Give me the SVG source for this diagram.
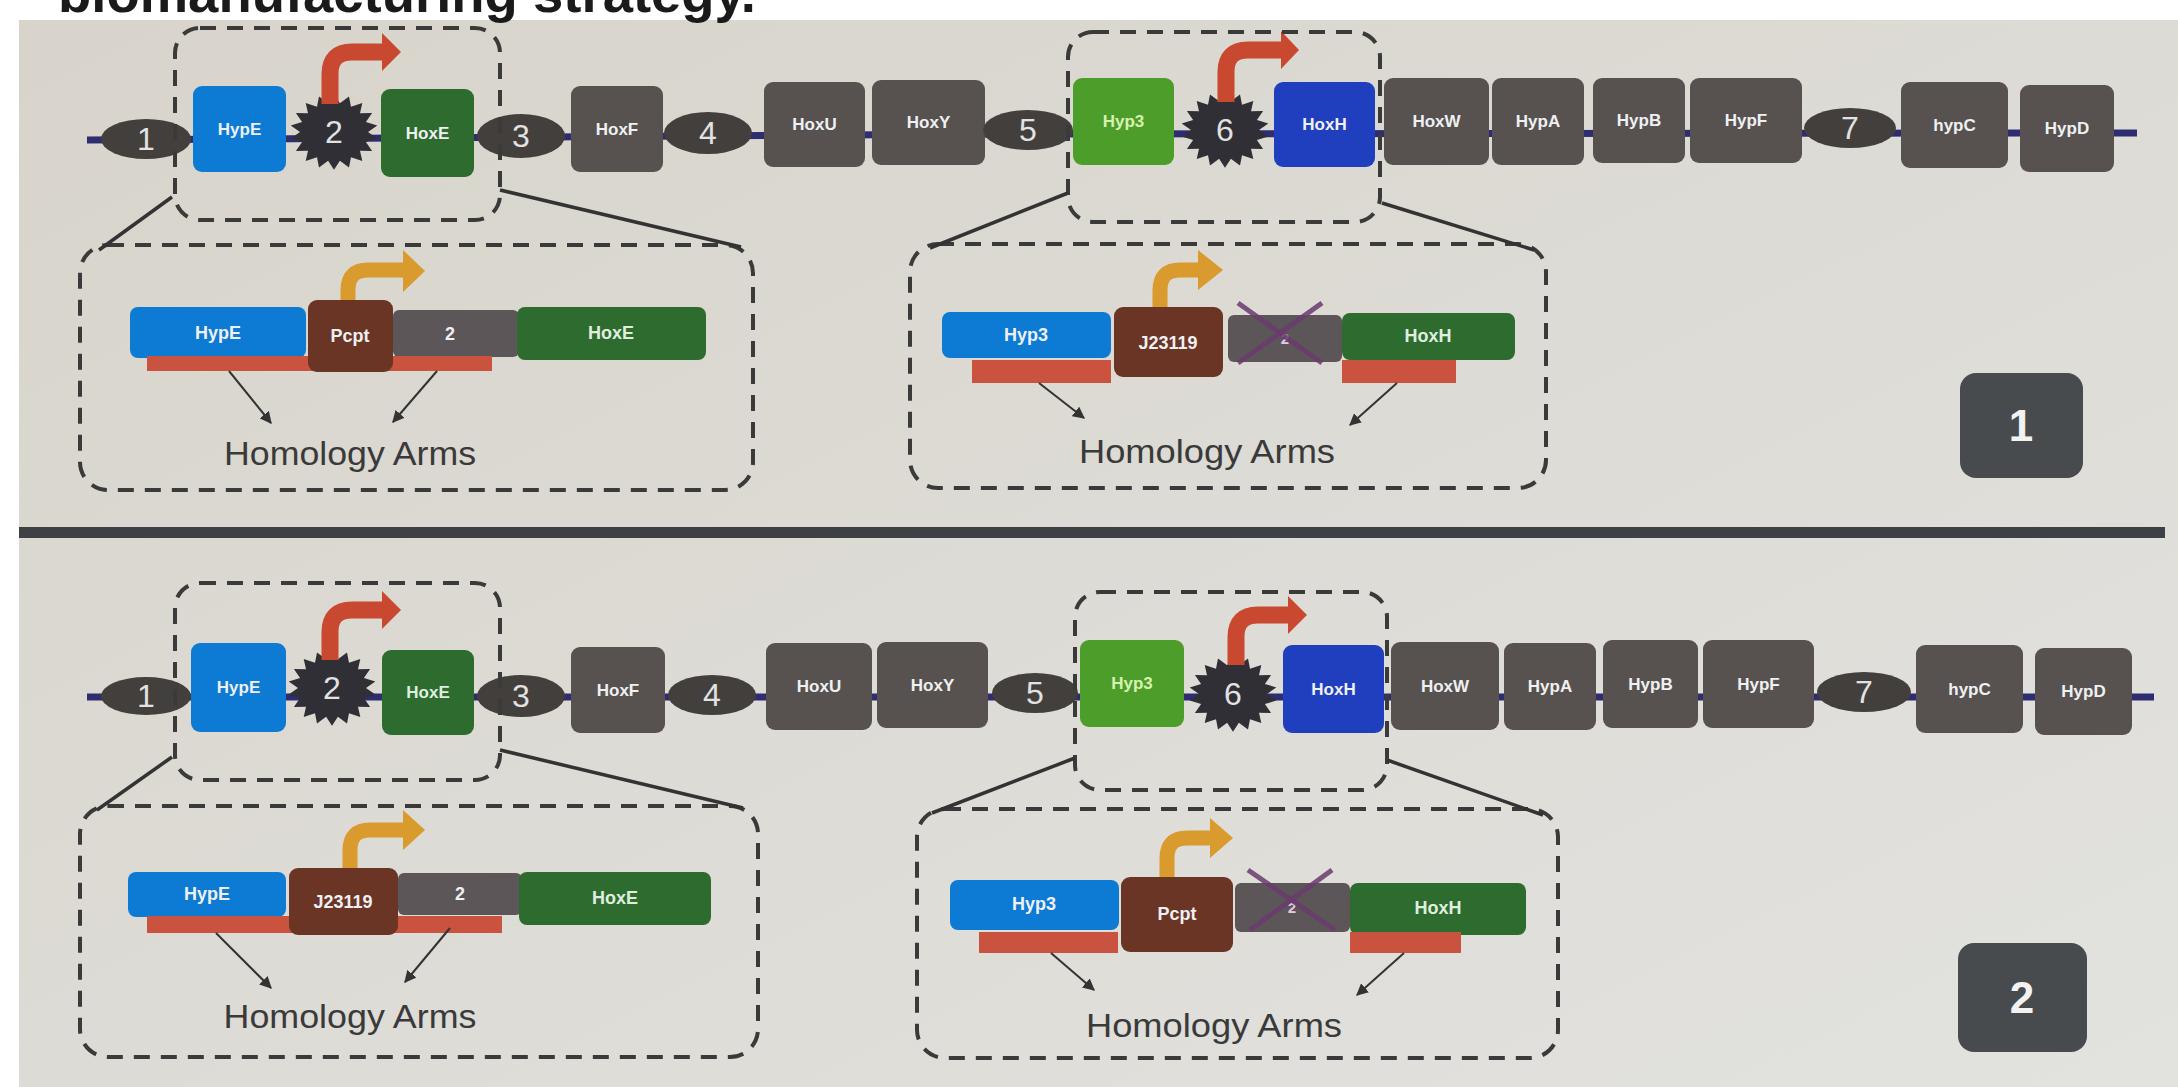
<svg xmlns="http://www.w3.org/2000/svg" xmlns:xlink="http://www.w3.org/1999/xlink" width="2178" height="1087" viewBox="0 0 2178 1087">
<style>
.gene{fill:#575250}
.ell{fill:#433f3d}
.star{fill:#2f2f35}
.blue{fill:#0d7bd4}
.dgreen{fill:#2d6b2f}
.lgreen{fill:#4c9d2a}
.dblue{fill:#1f3fbf}
.brown{fill:#6a3524}
.grey2{fill:#5c5658}
.arm{fill:#c9533f}
.dash{fill:none;stroke:#3a3a3a;stroke-width:4;stroke-dasharray:16 11}
.conn{fill:none;stroke:#333;stroke-width:3.5}
.thin{fill:none;stroke:#333;stroke-width:2;marker-end:url(#ah)}
.redarr{fill:none;stroke:#c8492f;stroke-width:17}
.redhead{fill:#c8492f}
.orarr{fill:none;stroke:#d99a2e;stroke-width:15}
.orhead{fill:#d99a2e}
.xline{stroke:#6b3b6e;stroke-width:5;opacity:0.85}
.backbone{fill:none;stroke:#2d2d70;stroke-width:7}
.gl{font-family:"Liberation Sans",Arial,sans-serif;font-weight:bold;font-size:17px;fill:#eef0f2;text-anchor:middle}
.dl{font-family:"Liberation Sans",Arial,sans-serif;font-weight:bold;font-size:18px;fill:#eef0f2;text-anchor:middle}
.num{font-family:"Liberation Sans",Arial,sans-serif;font-size:32px;fill:#e2e2e2;text-anchor:middle}
.ha{font-family:"Liberation Sans",Arial,sans-serif;font-size:33px;fill:#3a3a3a;text-anchor:middle}
.badge{fill:#474b4e}
.bl{font-family:"Liberation Sans",Arial,sans-serif;font-weight:bold;font-size:44px;fill:#f2f2f2;text-anchor:middle}
</style>
<defs>
<linearGradient id="bg" x1="0" y1="0" x2="1" y2="1">
<stop offset="0" stop-color="#d8d4cb"/>
<stop offset="1" stop-color="#e2e2df"/>
</linearGradient>
<polygon id="star" points="0,-37.8 5.9,-28.8 15,-35.6 17,-25.3 28.3,-29 26,-18.8 38.1,-18.9 31.9,-10 43.3,-6.6 34,0 43.3,6.6 31.9,10 38.1,18.9 26,18.8 28.3,29 17,25.3 15,35.6 5.9,28.8 0,37.8 -5.9,28.8 -15,35.6 -17,25.3 -28.3,29 -26,18.8 -38.1,18.9 -31.9,10 -43.3,6.6 -34,0 -43.3,-6.6 -31.9,-10 -38.1,-18.9 -26,-18.8 -28.3,-29 -17,-25.3 -15,-35.6 -5.9,-28.8"/>
<marker id="ah" viewBox="0 0 10 10" refX="9" refY="5" markerWidth="6" markerHeight="6" orient="auto" markerUnits="strokeWidth">
<path d="M0,0 L10,5 L0,10 z" fill="#333"/>
</marker>
</defs>

<rect x="0" y="0" width="2178" height="1087" fill="#ffffff"/>
<rect x="19" y="20" width="2159" height="1067" fill="url(#bg)"/>
<text x="58" y="12" font-family="'Liberation Sans',Arial,sans-serif" font-weight="bold" font-size="53" fill="#1a1a1a" textLength="698" lengthAdjust="spacingAndGlyphs">biomanufacturing strategy.</text>

<!-- separator -->
<rect id="separator" x="19" y="527" width="2146" height="11" fill="#3d4045"/>

<!-- ===== Panel 1 ===== -->
<g id="p1-backbone"><polyline class="backbone" points="87,140 1000,134 2137,133"/></g>

<g id="p1-e1"><ellipse class="ell" cx="146" cy="139" rx="45" ry="20"/><text class="num" x="146" y="150">1</text></g>
<g id="p1-HypE"><rect class="blue" x="193" y="86" width="93" height="86" rx="9"/><text class="gl" x="239.5" y="135">HypE</text></g>
<g id="p1-star2"><use xlink:href="#star" href="#star" class="star" x="334" y="132"/>
<path class="redarr" d="M330,104 V74 Q330,52 352,52 H384"/><polygon class="redhead" points="382,33 401,52 382,71"/>
<text class="num" x="334" y="143">2</text></g>
<g id="p1-HoxE"><rect class="dgreen" x="381" y="89" width="93" height="88" rx="9"/><text class="gl" x="427.5" y="139" fill="#dfeede">HoxE</text></g>
<g id="p1-e3"><ellipse class="ell" cx="521" cy="136" rx="44" ry="22"/><text class="num" x="521" y="147">3</text></g>
<g id="p1-HoxF"><rect class="gene" x="571" y="86" width="92" height="86" rx="9"/><text class="gl" x="617" y="135">HoxF</text></g>
<g id="p1-e4"><ellipse class="ell" cx="708" cy="133" rx="44" ry="21"/><text class="num" x="708" y="144">4</text></g>
<g id="p1-HoxU"><rect class="gene" x="764" y="82" width="101" height="85" rx="9"/><text class="gl" x="814.5" y="130">HoxU</text></g>
<g id="p1-HoxY"><rect class="gene" x="872" y="80" width="113" height="85" rx="9"/><text class="gl" x="928.5" y="128">HoxY</text></g>
<g id="p1-e5"><ellipse class="ell" cx="1028" cy="130" rx="45" ry="20"/><text class="num" x="1028" y="141">5</text></g>
<g id="p1-Hyp3"><rect class="lgreen" x="1073" y="78" width="101" height="87" rx="9"/><text class="gl" x="1123.5" y="127" style="fill:#d8f2ae">Hyp3</text></g>
<g id="p1-star6"><use xlink:href="#star" href="#star" class="star" x="1225" y="130"/>
<path class="redarr" d="M1226,102 V72 Q1226,50 1248,50 H1283"/><polygon class="redhead" points="1281,31 1299,50 1281,69"/>
<text class="num" x="1225" y="141">6</text></g>
<g id="p1-HoxH"><rect class="dblue" x="1274" y="82" width="101" height="85" rx="9"/><text class="gl" x="1324.5" y="130">HoxH</text></g>
<g id="p1-HoxW"><rect class="gene" x="1384" y="78" width="105" height="87" rx="9"/><text class="gl" x="1436.5" y="127">HoxW</text></g>
<g id="p1-HypA"><rect class="gene" x="1492" y="78" width="92" height="87" rx="9"/><text class="gl" x="1538" y="127">HypA</text></g>
<g id="p1-HypB"><rect class="gene" x="1593" y="78" width="92" height="85" rx="9"/><text class="gl" x="1639" y="126">HypB</text></g>
<g id="p1-HypF"><rect class="gene" x="1690" y="78" width="112" height="85" rx="9"/><text class="gl" x="1746" y="126">HypF</text></g>
<g id="p1-e7"><ellipse class="ell" cx="1850" cy="128" rx="46" ry="20"/><text class="num" x="1850" y="139">7</text></g>
<g id="p1-hypC"><rect class="gene" x="1901" y="82" width="107" height="86" rx="9"/><text class="gl" x="1954.5" y="131">hypC</text></g>
<g id="p1-HypD"><rect class="gene" x="2020" y="85" width="94" height="87" rx="9"/><text class="gl" x="2067" y="134">HypD</text></g>

<g id="p1-zoomA"><rect class="dash" x="175" y="28" width="325" height="192" rx="25"/></g>
<g id="p1-zoomB"><rect class="dash" x="1068" y="32" width="312" height="190" rx="25"/></g>

<g id="p1-detailA">
<rect class="dash" x="80" y="245" width="673" height="245" rx="28"/>
<path class="orarr" d="M348,304 V290 Q348,270 368,270 H405"/><polygon class="orhead" points="403,250 425,271 403,292"/>
<rect class="blue" x="130" y="307" width="176" height="51" rx="8"/><text class="dl" x="218" y="339">HypE</text>
<rect class="grey2" x="393" y="310" width="126" height="47" rx="6"/><text class="dl" x="450" y="340">2</text>
<rect class="dgreen" x="517" y="307" width="189" height="53" rx="8"/><text class="dl" x="611" y="339" style="fill:#dfeede">HoxE</text>
<rect class="arm" x="147" y="356" width="345" height="15"/>
<rect class="brown" x="308" y="300" width="85" height="72" rx="9"/><text class="dl" x="350" y="342">Pcpt</text>
<text class="ha" x="350" y="465" textLength="252" lengthAdjust="spacingAndGlyphs">Homology Arms</text>
</g>

<g id="p1-detailB">
<rect class="dash" x="910" y="244" width="636" height="244" rx="28"/>
<path class="orarr" d="M1160,309 V290 Q1160,270 1180,270 H1200"/><polygon class="orhead" points="1198,250 1223,270 1198,290"/>
<rect class="blue" x="942" y="312" width="169" height="46" rx="8"/><text class="dl" x="1026" y="341">Hyp3</text>
<rect class="grey2" x="1228" y="315" width="114" height="47" rx="6"/><text class="dl" x="1285" y="344" style="fill:#e6c8e6;font-size:15px">2</text>
<line class="xline" x1="1238" y1="303" x2="1322" y2="363"/><line class="xline" x1="1322" y1="303" x2="1238" y2="363"/>
<rect class="dgreen" x="1342" y="313" width="173" height="47" rx="8"/><text class="dl" x="1428" y="342" style="fill:#dfeede">HoxH</text>
<rect class="arm" x="972" y="360" width="139" height="23"/>
<rect class="arm" x="1342" y="360" width="114" height="23"/>
<rect class="brown" x="1114" y="307" width="109" height="70" rx="9"/><text class="dl" x="1168" y="349">J23119</text>
<text class="ha" x="1207" y="463" textLength="256" lengthAdjust="spacingAndGlyphs">Homology Arms</text>
</g>

<g id="p1-badge"><rect class="badge" x="1960" y="373" width="123" height="105" rx="16"/><text class="bl" x="2021" y="441">1</text></g>

<!-- ===== Panel 2 ===== -->
<g id="p2-backbone"><polyline class="backbone" points="87,697 2154,697"/></g>

<g id="p2-e1"><ellipse class="ell" cx="146" cy="696" rx="45" ry="19"/><text class="num" x="146" y="707">1</text></g>
<g id="p2-HypE"><rect class="blue" x="191" y="643" width="95" height="89" rx="9"/><text class="gl" x="238.5" y="693">HypE</text></g>
<g id="p2-star2"><use xlink:href="#star" href="#star" class="star" x="332" y="688"/>
<path class="redarr" d="M330,660 V632 Q330,610 352,610 H384"/><polygon class="redhead" points="382,591 401,610 382,629"/>
<text class="num" x="332" y="699">2</text></g>
<g id="p2-HoxE"><rect class="dgreen" x="382" y="650" width="92" height="85" rx="9"/><text class="gl" x="428" y="698" style="fill:#dfeede">HoxE</text></g>
<g id="p2-e3"><ellipse class="ell" cx="521" cy="696" rx="44" ry="21"/><text class="num" x="521" y="707">3</text></g>
<g id="p2-HoxF"><rect class="gene" x="571" y="647" width="94" height="86" rx="9"/><text class="gl" x="618" y="696">HoxF</text></g>
<g id="p2-e4"><ellipse class="ell" cx="712" cy="695" rx="44" ry="20"/><text class="num" x="712" y="706">4</text></g>
<g id="p2-HoxU"><rect class="gene" x="766" y="643" width="106" height="87" rx="9"/><text class="gl" x="819" y="692">HoxU</text></g>
<g id="p2-HoxY"><rect class="gene" x="877" y="642" width="111" height="86" rx="9"/><text class="gl" x="932.5" y="691">HoxY</text></g>
<g id="p2-e5"><ellipse class="ell" cx="1035" cy="693" rx="43" ry="20"/><text class="num" x="1035" y="704">5</text></g>
<g id="p2-Hyp3"><rect class="lgreen" x="1080" y="640" width="104" height="87" rx="9"/><text class="gl" x="1132" y="689" style="fill:#d8f2ae">Hyp3</text></g>
<g id="p2-star6"><use xlink:href="#star" href="#star" class="star" x="1233" y="694"/>
<path class="redarr" d="M1236,665 V637 Q1236,615 1258,615 H1290"/><polygon class="redhead" points="1288,596 1307,615 1288,634"/>
<text class="num" x="1233" y="705">6</text></g>
<g id="p2-HoxH"><rect class="dblue" x="1283" y="645" width="101" height="88" rx="9"/><text class="gl" x="1333.5" y="695">HoxH</text></g>
<g id="p2-HoxW"><rect class="gene" x="1391" y="642" width="108" height="88" rx="9"/><text class="gl" x="1445" y="692">HoxW</text></g>
<g id="p2-HypA"><rect class="gene" x="1504" y="643" width="92" height="87" rx="9"/><text class="gl" x="1550" y="692">HypA</text></g>
<g id="p2-HypB"><rect class="gene" x="1603" y="640" width="95" height="88" rx="9"/><text class="gl" x="1650.5" y="690">HypB</text></g>
<g id="p2-HypF"><rect class="gene" x="1703" y="640" width="111" height="88" rx="9"/><text class="gl" x="1758.5" y="690">HypF</text></g>
<g id="p2-e7"><ellipse class="ell" cx="1864" cy="692" rx="47" ry="20"/><text class="num" x="1864" y="703">7</text></g>
<g id="p2-hypC"><rect class="gene" x="1916" y="645" width="107" height="88" rx="9"/><text class="gl" x="1969.5" y="695">hypC</text></g>
<g id="p2-HypD"><rect class="gene" x="2035" y="648" width="97" height="87" rx="9"/><text class="gl" x="2083.5" y="697">HypD</text></g>

<g id="p2-zoomA"><rect class="dash" x="175" y="583" width="325" height="197" rx="25"/></g>
<g id="p2-zoomB"><rect class="dash" x="1075" y="592" width="312" height="198" rx="25"/></g>

<g id="p2-detailA">
<rect class="dash" x="80" y="806" width="678" height="251" rx="28"/>
<path class="orarr" d="M350,870 V850 Q350,830 370,830 H405"/><polygon class="orhead" points="403,810 425,830 403,850"/>
<rect class="blue" x="128" y="872" width="158" height="45" rx="8"/><text class="dl" x="207" y="900">HypE</text>
<rect class="grey2" x="398" y="873" width="124" height="42" rx="6"/><text class="dl" x="460" y="900">2</text>
<rect class="dgreen" x="519" y="872" width="192" height="53" rx="8"/><text class="dl" x="615" y="904" style="fill:#dfeede">HoxE</text>
<rect class="arm" x="147" y="916" width="355" height="17"/>
<rect class="brown" x="289" y="868" width="109" height="67" rx="9"/><text class="dl" x="343" y="908">J23119</text>
<text class="ha" x="350" y="1028" textLength="253" lengthAdjust="spacingAndGlyphs">Homology Arms</text>
</g>

<g id="p2-detailB">
<rect class="dash" x="917" y="809" width="641" height="249" rx="28"/>
<path class="orarr" d="M1167,880 V858 Q1167,838 1187,838 H1212"/><polygon class="orhead" points="1210,818 1233,838 1210,858"/>
<rect class="blue" x="950" y="880" width="169" height="50" rx="8"/><text class="dl" x="1034" y="910">Hyp3</text>
<rect class="grey2" x="1235" y="883" width="115" height="49" rx="6"/><text class="dl" x="1292" y="913" style="fill:#e6c8e6;font-size:15px">2</text>
<line class="xline" x1="1248" y1="870" x2="1335" y2="930"/><line class="xline" x1="1332" y1="870" x2="1250" y2="930"/>
<rect class="dgreen" x="1350" y="883" width="176" height="52" rx="8"/><text class="dl" x="1438" y="914" style="fill:#dfeede">HoxH</text>
<rect class="arm" x="979" y="932" width="139" height="21"/>
<rect class="arm" x="1350" y="932" width="111" height="21"/>
<rect class="brown" x="1121" y="877" width="112" height="75" rx="9"/><text class="dl" x="1177" y="920">Pcpt</text>
<text class="ha" x="1214" y="1037" textLength="256" lengthAdjust="spacingAndGlyphs">Homology Arms</text>
</g>

<g id="p2-badge"><rect class="badge" x="1958" y="943" width="129" height="109" rx="16"/><text class="bl" x="2022" y="1013">2</text></g>

<!-- connectors -->
<g id="connectors">
<line class="conn" x1="172" y1="197" x2="99" y2="250"/>
<line class="conn" x1="500" y1="190" x2="741" y2="247"/>
<line class="conn" x1="1068" y1="193" x2="930" y2="248"/>
<line class="conn" x1="1382" y1="203" x2="1534" y2="250"/>
<line class="conn" x1="172" y1="757" x2="97" y2="810"/>
<line class="conn" x1="500" y1="750" x2="743" y2="808"/>
<line class="conn" x1="1075" y1="758" x2="932" y2="813"/>
<line class="conn" x1="1387" y1="760" x2="1543" y2="815"/>
<line class="thin" x1="229" y1="371" x2="271" y2="423"/>
<line class="thin" x1="437" y1="371" x2="393" y2="422"/>
<line class="thin" x1="1039" y1="383" x2="1084" y2="418"/>
<line class="thin" x1="1397" y1="383" x2="1350" y2="425"/>
<line class="thin" x1="216" y1="933" x2="271" y2="988"/>
<line class="thin" x1="450" y1="928" x2="405" y2="982"/>
<line class="thin" x1="1051" y1="953" x2="1094" y2="990"/>
<line class="thin" x1="1404" y1="953" x2="1357" y2="995"/>
</g>
</svg>
